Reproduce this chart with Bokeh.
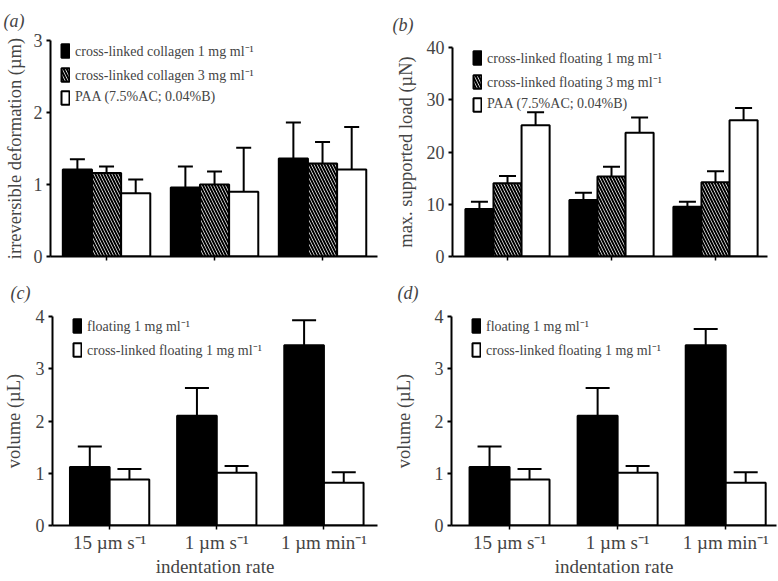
from bokeh.plotting import figure
from bokeh.models import (ColumnDataSource, FixedTicker, Whisker, TeeHead, Legend,
                          LegendItem, Range1d)
from bokeh.layouts import row, column
from bokeh.embed import file_html
from bokeh.resources import INLINE

FONT = "Liberation Serif"

# ---------------- data ----------------
rates = ["15 µm s⁻¹", "1 µm s⁻¹", "1 µm min⁻¹"]
group_pos = [1, 2, 3]

# (a) irreversible deformation (µm)
a_labels = ["cross-linked collagen 1 mg ml⁻¹", "cross-linked collagen 3 mg ml⁻¹",
            "PAA (7.5%AC; 0.04%B)"]
a_coll1 = [1.21, 0.96, 1.36]
a_coll1_err = [0.14, 0.29, 0.50]
a_coll3 = [1.16, 1.00, 1.29]
a_coll3_err = [0.09, 0.18, 0.30]
a_paa = [0.88, 0.90, 1.21]
a_paa_err = [0.19, 0.61, 0.59]

# (b) max. supported load (µN)
b_labels = ["cross-linked floating 1 mg ml⁻¹", "cross-linked floating 3 mg ml⁻¹",
            "PAA (7.5%AC; 0.04%B)"]
b_float1 = [9.1, 10.8, 9.5]
b_float1_err = [1.4, 1.4, 1.0]
b_float3 = [14.0, 15.3, 14.2]
b_float3_err = [1.4, 1.9, 2.1]
b_paa = [25.1, 23.7, 26.1]
b_paa_err = [2.5, 2.9, 2.3]

# (c) volume (µL)
c_labels = ["floating 1 mg ml⁻¹", "cross-linked floating 1 mg ml⁻¹"]
c_float = [1.12, 2.10, 3.45]
c_float_err = [0.39, 0.53, 0.48]
c_xlink = [0.88, 1.01, 0.82]
c_xlink_err = [0.20, 0.13, 0.20]

# (d) volume (µL)
d_labels = ["floating 1 mg ml⁻¹", "cross-linked floating 1 mg ml⁻¹"]
d_float = [1.12, 2.10, 3.45]
d_float_err = [0.39, 0.53, 0.31]
d_xlink = [0.88, 1.01, 0.82]
d_xlink_err = [0.20, 0.13, 0.20]

a_yticks = [0, 1, 2, 3]
b_yticks = [0, 10, 20, 30, 40]
cd_yticks = [0, 1, 2, 3, 4]

STYLES = {
    "black": dict(fill_color="black"),
    "hatch": dict(fill_color="white", hatch_pattern="left_diagonal_line",
                  hatch_color="black", hatch_scale=6, hatch_weight=2),
    "white": dict(fill_color="white"),
}


def make_panel(letter, ylabel, yticks, ymax, xr, series, bw, offsets, head,
               size, borders, leg_x, leg_top, title_off,
               ylab_standoff, show_x):
    W, H = size
    bl, bt, bb, br = borders
    fh = H - bt - bb
    p = figure(width=W, height=H, min_border_left=bl, min_border_top=bt,
               min_border_bottom=bb, min_border_right=br,
               x_range=Range1d(*xr), y_range=Range1d(0, ymax),
               output_backend="svg", toolbar_location=None, tools="")
    p.outline_line_color = None
    p.xgrid.visible = False
    p.ygrid.visible = False
    p.background_fill_color = "white"
    p.border_fill_color = "white"

    # panel letter
    p.title.text = "(" + letter + ")"
    p.title.align = "left"
    p.title.vertical_align = "top"
    p.title.offset = title_off
    p.title.standoff = max(bt - 25, 0)
    p.title.text_font = FONT
    p.title.text_font_size = "18px"
    p.title.text_font_style = "italic"

    items = []
    for (lbl, vals, errs, sty), off in zip(series, offsets):
        src = ColumnDataSource(dict(
            x=[g + off for g in group_pos],
            top=vals,
            upper=[v + e for v, e in zip(vals, errs)],
        ))
        r = p.vbar(x="x", top="top", bottom=0, width=bw, source=src,
                   line_color="black", line_width=2, **STYLES[sty])
        w = Whisker(source=src, base="x", lower="top", upper="upper",
                    line_color="black", line_width=2,
                    upper_head=TeeHead(size=head, line_width=2, line_color="black"),
                    lower_head=None, level="glyph")
        p.add_layout(w)
        items.append(LegendItem(label=lbl, renderers=[r]))

    n = len(items)
    leg_h = n * 18.5 + (n - 1) * 5
    leg = Legend(items=items, location=(leg_x, fh - leg_top - leg_h),
                 glyph_width=10, glyph_height=17,
                 label_height=17, spacing=5, padding=0, margin=0, label_standoff=5,
                 label_text_font=FONT, label_text_font_size="14px",
                 border_line_color=None, background_fill_alpha=0)
    p.add_layout(leg)

    # y axis
    ya = p.yaxis[0]
    ya.ticker = FixedTicker(ticks=yticks)
    ya.minor_tick_line_color = None
    ya.major_tick_in = 0
    ya.major_tick_out = 4
    ya.major_tick_line_width = 2
    ya.axis_line_width = 2
    ya.major_label_text_font = FONT
    ya.major_label_text_font_size = "18px"
    ya.major_label_standoff = 4
    ya.axis_label = ylabel
    ya.axis_label_text_font = FONT
    ya.axis_label_text_font_style = "normal"
    ya.axis_label_text_font_size = "18.5px"
    ya.axis_label_standoff = ylab_standoff

    # x axis
    xa = p.xaxis[0]
    xa.ticker = FixedTicker(ticks=group_pos)
    xa.minor_tick_line_color = None
    xa.major_tick_in = 0
    xa.major_tick_out = 4
    xa.major_tick_line_width = 1.5
    xa.axis_line_width = 2
    xa.major_label_text_font = FONT
    xa.major_label_text_font_size = "19px"
    xa.major_label_standoff = 2
    if show_x:
        xa.major_label_overrides = {g: r for g, r in zip(group_pos, rates)}
        xa.axis_label = "indentation rate"
        xa.axis_label_text_font = FONT
        xa.axis_label_text_font_style = "normal"
        xa.axis_label_text_font_size = "19px"
        xa.axis_label_standoff = 0
    else:
        xa.major_label_overrides = {g: "" for g in group_pos}
        xa.major_label_text_font_size = "1px"
    return p


pa = make_panel("a", "irreversible deformation (µm)", a_yticks, 3, (0.481, 3.509),
                [(a_labels[0], a_coll1, a_coll1_err, "black"),
                 (a_labels[1], a_coll3, a_coll3_err, "hatch"),
                 (a_labels[2], a_paa, a_paa_err, "white")],
                0.27, [-0.27, 0, 0.27], 15,
                (390, 267), (50, 40, 11, 13), 10, 0, -47, 6, False)

pb = make_panel("b", "max. supported load (µN)", b_yticks, 40, (0.471, 3.50),
                [(b_labels[0], b_float1, b_float1_err, "black"),
                 (b_labels[1], b_float3, b_float3_err, "hatch"),
                 (b_labels[2], b_paa, b_paa_err, "white")],
                0.27, [-0.27, 0, 0.27], 17,
                (387, 267), (62, 47, 11, 10), 20, 0, -60, 8, False)

pc = make_panel("c", "volume (µL)", cd_yticks, 4, (0.467, 3.50),
                [(c_labels[0], c_float, c_float_err, "black"),
                 (c_labels[1], c_xlink, c_xlink_err, "white")],
                0.37, [-0.185, 0.185], 24,
                (390, 313), (49, 49, 55, 13), 20, 1, -42, 9, True)

pd_ = make_panel("d", "volume (µL)", cd_yticks, 4, (0.463, 3.47),
                 [(d_labels[0], d_float, d_float_err, "black"),
                  (d_labels[1], d_xlink, d_xlink_err, "white")],
                 0.37, [-0.185, 0.185], 24,
                 (387, 313), (61, 49, 55, 1), 20, 1, -54, 18, True)

# each figure wrapped on its own so that Bokeh does not align the frames of a row
layout = column(row(column(pa), column(pb)), row(column(pc), column(pd_)))

with open("out.html", "w") as f:
    f.write(file_html(layout, INLINE))
